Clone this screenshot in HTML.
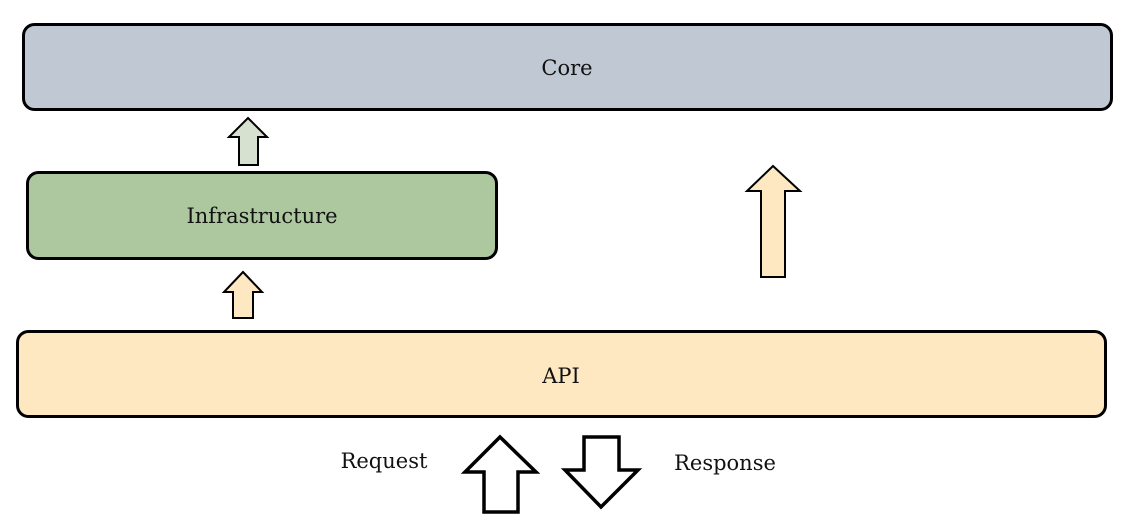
<!DOCTYPE html>
<html><head><style>
html,body{margin:0;padding:0;background:#fff;width:1143px;height:526px;overflow:hidden}
svg{display:block}
text{font-family:"DejaVu Serif","Liberation Serif",serif;font-size:21px;fill:#111}
</style></head><body>
<svg width="1143" height="526" viewBox="0 0 1143 526">
<rect x="23.5" y="24.5" width="1088" height="85" rx="11" fill="#c0c9d3" stroke="#000" stroke-width="3"/>
<text x="567" y="75" text-anchor="middle">Core</text>
<rect x="27.5" y="172.5" width="469" height="86" rx="11" fill="#adc89f" stroke="#000" stroke-width="3"/>
<text x="262" y="223" text-anchor="middle">Infrastructure</text>
<rect x="17.5" y="331.5" width="1088" height="85" rx="11" fill="#fee8c1" stroke="#000" stroke-width="3"/>
<text x="561" y="383" text-anchor="middle">API</text>
<polygon points="248,118 267,137 258,137 258,165 239,165 239,137 229,137" fill="#d6e2cf" stroke="#000" stroke-width="2"/>
<polygon points="243,272 262,292 253,292 253,318 233,318 233,292 224,292" fill="#fee8c1" stroke="#000" stroke-width="2"/>
<polygon points="773,166 800,191 785,191 785,277 761,277 761,191 747,191" fill="#fee8c1" stroke="#000" stroke-width="2"/>
<polygon points="500,437 536,472 518,472 518,512 484,512 484,472 465,472" fill="#fff" stroke="#000" stroke-width="3.5"/>
<polygon points="584,437 619,437 619,470 638,470 601,507 565,470 584,470" fill="#fff" stroke="#000" stroke-width="3.5"/>
<text x="384" y="468" text-anchor="middle">Request</text>
<text x="725" y="470" text-anchor="middle">Response</text>
</svg>
</body></html>
